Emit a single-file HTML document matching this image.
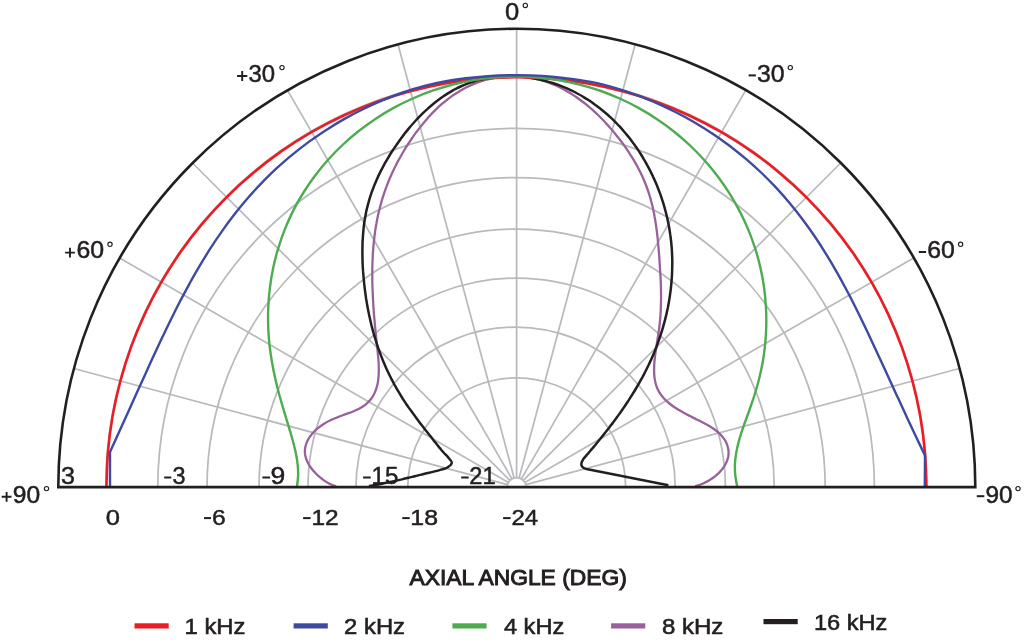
<!DOCTYPE html>
<html><head><meta charset="utf-8"><title>Polar response</title>
<style>html,body{margin:0;padding:0;background:#fff}body{width:1024px;height:643px;overflow:hidden}svg{display:block}text{font-family:"Liberation Sans",sans-serif;fill:#231f20}</style>
</head><body>
<svg width="1024" height="643" viewBox="0 0 1024 643">
<rect width="1024" height="643" fill="#fff"/>
<g fill="none" stroke="#b9babe" stroke-width="1.75">
<path d="M407.8 487.1A108.9 109.3 0 0 1 625.6 487.1"/>
<path d="M356 487.1A159.6 160 0 0 1 675.2 487.1"/>
<path d="M308 487.1A208.7 209.1 0 0 1 725.4 487.1"/>
<path d="M259 487.1A257.6 258 0 0 1 774.2 487.1"/>
<path d="M207 487.1A309.1 309.5 0 0 1 825.2 487.1"/>
<path d="M157.8 487.1A358.3 358.7 0 0 1 874.4 487.1"/>
<path d="M105.9 487.1A410.5 410.9 0 0 1 926.9 487.1"/>
<path d="M507.1 487.1A9.5 9.5 0 0 1 526.1 487.1"/>
<path d="M507.4 484.6L73.8 368.5M508.4 482.4L119.6 257.9M509.9 480.4L192.5 163M511.9 478.9L287.4 90.1M514.1 477.9L398 44.3M516.6 477.6L516.6 28.7M519.1 477.9L635.2 44.3M521.4 478.9L745.8 90.1M523.3 480.4L840.7 163M524.8 482.4L913.6 257.9M525.8 484.6L959.4 368.5"/>
</g>
<g fill="none" stroke-linejoin="round" stroke-linecap="butt">
<path stroke="#99619b" stroke-width="2.3" d="M336.1 486.3C334.9 485.8 331.3 484.6 329 483.4C326.7 482.2 324.5 480.8 322.5 479.3C320.4 477.8 318.4 476.1 316.6 474.3C314.8 472.5 313.1 470.6 311.5 468.5C310 466.5 308.6 464.3 307.5 462C306.4 459.7 305.5 457.2 305.1 454.7C304.8 452.2 304.8 449.5 305.3 447C305.8 444.6 306.8 442.1 308 439.8C309.1 437.6 310.7 435.5 312.4 433.5C314 431.6 315.9 429.8 317.9 428.2C319.8 426.5 322 425 324.1 423.7C326.3 422.3 328.6 421.1 330.9 420C333.2 418.9 335.6 418 338 417.1C340.4 416.1 342.8 415.3 345.2 414.4C347.6 413.5 350.1 412.7 352.5 411.7C354.8 410.8 357.2 409.8 359.5 408.6C361.7 407.3 363.9 406 365.9 404.3C367.8 402.7 369.7 400.8 371.2 398.8C372.7 396.7 374 394.5 375 392.1C376.1 389.8 376.8 387.3 377.4 384.8C378 382.3 378.3 379.7 378.5 377.2C378.8 374.6 378.8 372.1 378.8 369.5C378.8 366.9 378.7 364.4 378.6 361.8C378.4 359.2 378.2 356.7 377.9 354.1C377.7 351.6 377.4 349 377.1 346.5C376.9 343.9 376.6 341.4 376.3 338.8C376 336.3 375.8 333.7 375.5 331.2C375.3 328.6 375 326.1 374.8 323.5C374.6 320.9 374.3 318.4 374.1 315.8C373.9 313.3 373.7 310.7 373.5 308.2C373.4 305.6 373.2 303 373.1 300.5C372.9 297.9 372.8 295.3 372.7 292.8C372.6 290.2 372.5 287.6 372.4 285.1C372.3 282.5 372.3 280 372.3 277.4C372.3 274.8 372.3 272.3 372.3 269.7C372.3 267.1 372.4 264.6 372.5 262C372.6 259.4 372.7 256.9 372.8 254.3C373 251.7 373.2 249.2 373.4 246.6C373.6 244.1 373.9 241.5 374.2 239C374.5 236.4 374.8 233.9 375.1 231.3C375.5 228.8 375.9 226.2 376.4 223.7C376.8 221.2 377.3 218.7 377.8 216.2C378.4 213.7 378.9 211.1 379.6 208.7C380.2 206.2 380.9 203.7 381.6 201.2C382.3 198.8 383.1 196.3 383.9 193.9C384.7 191.4 385.5 189 386.5 186.6C387.4 184.2 388.3 181.8 389.3 179.5C390.3 177.1 391.3 174.8 392.4 172.4C393.5 170.1 394.6 167.8 395.8 165.5C396.9 163.2 398.1 160.9 399.4 158.7C400.6 156.4 401.9 154.2 403.2 152C404.5 149.8 405.8 147.6 407.2 145.4C408.6 143.3 410 141.1 411.5 139C412.9 136.9 414.4 134.8 415.9 132.7C417.4 130.7 419 128.6 420.6 126.6C422.2 124.6 423.8 122.6 425.5 120.7C427.1 118.7 428.8 116.8 430.6 114.9C432.3 113.1 434.1 111.2 436 109.4C437.8 107.6 439.7 105.9 441.6 104.2C443.6 102.5 445.6 100.9 447.6 99.3C449.6 97.8 451.7 96.2 453.8 94.8C455.9 93.4 458.1 92 460.3 90.7C462.5 89.4 464.8 88.2 467.1 87C469.4 85.9 471.7 84.8 474.1 83.9C476.5 82.9 478.9 82 481.4 81.2C483.8 80.5 486.3 79.8 488.8 79.2C491.3 78.6 493.8 78.1 496.3 77.7C498.9 77.3 501.4 77 504 76.7C506.5 76.5 509.1 76.4 511.6 76.3C514.2 76.3 516.8 76.3 519.3 76.5C521.9 76.6 524.5 76.9 527 77.2C529.5 77.6 532.1 78 534.6 78.6C537.1 79.1 539.6 79.7 542 80.4C544.5 81.2 546.9 82 549.3 82.9C551.8 83.8 554.1 84.8 556.5 85.8C558.8 86.9 561.1 88 563.4 89.2C565.6 90.4 567.9 91.7 570.1 93C572.2 94.4 574.4 95.8 576.5 97.2C578.6 98.7 580.7 100.2 582.7 101.8C584.8 103.3 586.8 104.9 588.7 106.6C590.7 108.2 592.6 109.9 594.5 111.7C596.4 113.4 598.2 115.2 600.1 117C601.9 118.8 603.7 120.7 605.4 122.6C607.2 124.4 608.9 126.4 610.5 128.3C612.2 130.2 613.9 132.2 615.5 134.2C617.1 136.2 618.7 138.2 620.3 140.2C621.8 142.3 623.3 144.3 624.8 146.4C626.3 148.5 627.8 150.7 629.2 152.8C630.6 154.9 631.9 157.1 633.3 159.3C634.6 161.5 635.9 163.7 637.1 166C638.3 168.3 639.5 170.5 640.6 172.8C641.7 175.1 642.8 177.5 643.8 179.8C644.8 182.2 645.8 184.6 646.7 187C647.6 189.4 648.4 191.8 649.2 194.3C650 196.7 650.7 199.2 651.3 201.7C652 204.1 652.6 206.6 653.1 209.1C653.7 211.7 654.2 214.2 654.6 216.7C655.1 219.2 655.5 221.8 655.9 224.3C656.2 226.8 656.6 229.4 656.9 231.9C657.2 234.5 657.5 237 657.8 239.6C658 242.1 658.2 244.7 658.5 247.2C658.7 249.8 658.9 252.4 659.1 254.9C659.3 257.5 659.5 260 659.6 262.6C659.8 265.2 660 267.7 660.1 270.3C660.3 272.8 660.4 275.4 660.6 278C660.7 280.5 660.8 283.1 660.9 285.7C661 288.2 661 290.8 661 293.4C661.1 295.9 661.1 298.5 661 301.1C661 303.6 660.9 306.2 660.8 308.8C660.7 311.3 660.6 313.9 660.4 316.4C660.2 319 659.9 321.6 659.7 324.1C659.4 326.7 659.1 329.2 658.7 331.7C658.4 334.3 657.9 336.8 657.5 339.4C657.2 341.9 656.7 344.4 656.3 347C656 349.5 655.6 352 655.2 354.6C654.9 357.1 654.6 359.7 654.4 362.2C654.2 364.8 654.1 367.4 654.1 369.9C654.1 372.5 654.2 375.1 654.5 377.6C654.9 380.1 655.3 382.7 656.1 385.1C656.9 387.6 657.9 390 659.2 392.2C660.5 394.4 662.1 396.4 663.8 398.3C665.5 400.2 667.4 401.9 669.4 403.5C671.4 405.2 673.5 406.6 675.7 408C677.8 409.5 680 410.7 682.3 412C684.5 413.3 686.8 414.5 689.1 415.6C691.3 416.8 693.7 417.9 695.9 419.1C698.2 420.2 700.6 421.3 702.8 422.5C705.1 423.7 707.4 424.9 709.6 426.2C711.8 427.6 714 428.9 716 430.5C718 432.1 720 433.8 721.6 435.7C723.3 437.6 724.9 439.8 726 442C727.1 444.3 728 446.9 728.3 449.3C728.7 451.8 728.6 454.5 728.2 457C727.7 459.5 726.7 462 725.5 464.2C724.3 466.5 722.8 468.6 721.1 470.5C719.5 472.5 717.6 474.3 715.6 475.9C713.7 477.5 711.5 479 709.3 480.3C707.1 481.6 704.8 482.8 702.5 483.8C700.1 484.8 696.4 485.9 695.2 486.3"/>
<path stroke="#231f20" stroke-width="2.5" d="M368.9 486C370 485.8 373.3 485.3 375.5 484.9C377.8 484.5 380 484.1 382.2 483.7C384.4 483.2 386.6 482.8 388.7 482.3C390.9 481.9 393.1 481.4 395.3 480.9C397.5 480.4 399.7 479.9 401.9 479.4C404.1 478.8 406.2 478.3 408.4 477.8C410.6 477.3 412.8 476.7 414.9 476.2C417.1 475.7 419.3 475.1 421.5 474.6C423.7 474.1 425.8 473.5 428 473C430.2 472.5 432.4 472 434.6 471.4C436.7 470.9 438.9 470.3 441 469.6C443.2 469 445.7 468.7 447.4 467.5C449.2 466.4 451.6 464.6 451.8 462.9C451.9 461.2 449.5 459.2 448.2 457.4C446.8 455.7 445.1 454.2 443.6 452.5C442.1 450.8 440.7 449.1 439.2 447.4C437.8 445.7 436.4 443.9 435 442.1C433.6 440.4 432.3 438.6 430.9 436.8C429.5 435.1 428.1 433.3 426.7 431.5C425.3 429.8 424 428 422.6 426.2C421.2 424.5 419.8 422.7 418.5 420.9C417.1 419.1 415.8 417.3 414.5 415.5C413.1 413.7 411.8 411.9 410.5 410.1C409.2 408.3 407.9 406.4 406.6 404.6C405.4 402.7 404.1 400.8 402.9 399C401.7 397.1 400.5 395.2 399.4 393.2C398.2 391.3 397.1 389.4 396 387.4C394.9 385.5 393.8 383.5 392.8 381.5C391.7 379.6 390.7 377.6 389.7 375.5C388.7 373.5 387.8 371.5 386.8 369.5C385.9 367.4 385 365.4 384.1 363.3C383.2 361.2 382.4 359.2 381.6 357.1C380.8 355 380 352.9 379.2 350.8C378.4 348.7 377.7 346.5 377 344.4C376.3 342.3 375.6 340.1 375 338C374.3 335.9 373.7 333.7 373.1 331.5C372.5 329.4 372 327.2 371.4 325C370.9 322.9 370.4 320.7 369.9 318.5C369.4 316.3 368.9 314.1 368.5 311.9C368 309.7 367.6 307.5 367.2 305.3C366.9 303.1 366.5 300.9 366.1 298.7C365.8 296.4 365.5 294.2 365.2 292C364.9 289.8 364.6 287.5 364.4 285.3C364.1 283.1 363.9 280.9 363.7 278.6C363.5 276.4 363.3 274.2 363.1 271.9C363 269.7 362.8 267.4 362.7 265.2C362.6 263 362.5 260.7 362.5 258.5C362.4 256.2 362.4 254 362.4 251.8C362.4 249.5 362.4 247.3 362.5 245C362.5 242.8 362.6 240.5 362.8 238.3C362.9 236.1 363.1 233.8 363.3 231.6C363.5 229.4 363.7 227.1 364 224.9C364.3 222.7 364.6 220.5 365 218.3C365.4 216 365.8 213.8 366.2 211.6C366.7 209.5 367.2 207.3 367.8 205.1C368.4 202.9 369 200.8 369.6 198.6C370.3 196.5 371 194.4 371.7 192.2C372.5 190.1 373.3 188 374.1 185.9C374.9 183.9 375.8 181.8 376.7 179.7C377.6 177.7 378.5 175.7 379.5 173.6C380.5 171.6 381.5 169.6 382.6 167.6C383.6 165.7 384.7 163.7 385.8 161.7C386.9 159.8 388.1 157.9 389.2 156C390.4 154 391.6 152.1 392.8 150.3C394.1 148.4 395.3 146.5 396.6 144.7C397.9 142.8 399.2 141 400.5 139.2C401.8 137.4 403.2 135.6 404.5 133.8C405.9 132 407.3 130.3 408.7 128.6C410.2 126.8 411.6 125.1 413.1 123.5C414.6 121.8 416.1 120.1 417.6 118.5C419.2 116.9 420.8 115.3 422.4 113.7C424 112.1 425.6 110.6 427.3 109.1C428.9 107.6 430.6 106.1 432.3 104.7C434.1 103.2 435.8 101.8 437.6 100.5C439.4 99.1 441.2 97.8 443.1 96.5C444.9 95.3 446.8 94.1 448.7 92.9C450.6 91.7 452.6 90.6 454.5 89.5C456.5 88.5 458.5 87.5 460.6 86.5C462.6 85.6 464.7 84.7 466.8 83.9C468.8 83.1 471 82.4 473.1 81.7C475.2 81 477.4 80.4 479.6 79.9C481.7 79.3 483.9 78.8 486.1 78.4C488.3 78 490.6 77.6 492.8 77.3C495 77 497.2 76.8 499.5 76.6C501.7 76.5 504 76.3 506.2 76.3C508.4 76.2 510.7 76.2 512.9 76.3C515.2 76.3 517.4 76.4 519.6 76.6C521.9 76.8 524.1 77 526.3 77.3C528.6 77.5 530.8 77.9 533 78.2C535.2 78.6 537.4 79 539.6 79.5C541.8 80 544 80.5 546.1 81.1C548.3 81.7 550.4 82.3 552.6 83C554.7 83.7 556.8 84.4 558.9 85.2C561 86 563.1 86.8 565.2 87.7C567.3 88.5 569.3 89.5 571.3 90.4C573.4 91.4 575.4 92.4 577.3 93.5C579.3 94.5 581.3 95.6 583.2 96.8C585.1 97.9 587 99.1 588.9 100.3C590.8 101.6 592.6 102.8 594.4 104.2C596.3 105.5 598 106.8 599.8 108.2C601.6 109.6 603.3 111 605 112.5C606.7 113.9 608.4 115.4 610 116.9C611.7 118.5 613.3 120 614.9 121.6C616.5 123.2 618 124.8 619.6 126.4C621.1 128.1 622.6 129.8 624 131.5C625.5 133.2 626.9 134.9 628.3 136.6C629.7 138.4 631.1 140.2 632.4 142C633.8 143.8 635.1 145.6 636.4 147.4C637.6 149.3 638.9 151.2 640.1 153C641.3 154.9 642.5 156.8 643.6 158.8C644.8 160.7 645.9 162.6 646.9 164.6C648 166.6 649.1 168.6 650.1 170.6C651.1 172.6 652.1 174.6 653 176.6C654 178.6 654.9 180.7 655.8 182.8C656.7 184.8 657.5 186.9 658.3 189C659.1 191.1 659.9 193.2 660.7 195.3C661.4 197.4 662.1 199.5 662.8 201.7C663.5 203.8 664.1 206 664.7 208.1C665.3 210.3 665.9 212.4 666.4 214.6C667 216.8 667.5 219 667.9 221.2C668.4 223.4 668.8 225.6 669.2 227.8C669.6 230 669.9 232.2 670.2 234.4C670.6 236.6 670.8 238.9 671.1 241.1C671.3 243.3 671.5 245.6 671.7 247.8C671.9 250 672 252.3 672.1 254.5C672.2 256.8 672.2 259 672.3 261.2C672.3 263.5 672.3 265.7 672.2 268C672.2 270.2 672.1 272.5 672 274.7C671.9 276.9 671.7 279.2 671.5 281.4C671.4 283.6 671.1 285.9 670.9 288.1C670.6 290.3 670.4 292.6 670 294.8C669.7 297 669.4 299.2 669 301.4C668.6 303.6 668.2 305.8 667.8 308C667.3 310.2 666.8 312.4 666.3 314.6C665.8 316.8 665.3 319 664.7 321.1C664.1 323.3 663.5 325.5 662.9 327.6C662.3 329.8 661.6 331.9 660.9 334.1C660.2 336.2 659.5 338.3 658.8 340.4C658 342.5 657.3 344.6 656.5 346.7C655.7 348.8 654.8 350.9 654 353C653.1 355.1 652.2 357.1 651.3 359.2C650.4 361.2 649.4 363.2 648.5 365.3C647.5 367.3 646.5 369.3 645.5 371.3C644.5 373.3 643.4 375.3 642.4 377.3C641.3 379.2 640.2 381.2 639.1 383.1C638 385.1 636.9 387 635.7 389C634.6 390.9 633.4 392.8 632.2 394.7C631 396.6 629.8 398.5 628.6 400.4C627.4 402.2 626.1 404.1 624.9 406C623.6 407.8 622.3 409.7 621.1 411.5C619.8 413.3 618.5 415.2 617.1 417C615.8 418.8 614.5 420.6 613.1 422.4C611.8 424.2 610.4 426 609.1 427.8C607.7 429.5 606.3 431.3 604.9 433.1C603.6 434.8 602.2 436.6 600.7 438.3C599.3 440.1 597.9 441.8 596.5 443.5C595.1 445.3 593.6 447 592.2 448.7C590.7 450.4 589.3 452.1 587.8 453.8C586.4 455.5 584.1 458.1 583.4 458.9C581.6 461.4 580.6 464.6 582.2 466.8C583.2 468.2 584.6 468.6 586.4 469L668.4 485.2"/>
<path stroke="#ec1c24" stroke-width="2.6" d="M106.4 487.1C106.7 481.1 106.9 463.2 108 451.4C109 439.5 110.6 427.7 112.6 415.9C114.7 404.2 117.3 392.5 120.4 381C123.5 369.5 127.1 358.1 131.1 346.9C135.2 335.8 139.8 324.7 144.8 313.9C149.8 303.1 155.4 292.5 161.3 282.2C167.3 271.9 173.7 261.8 180.5 252C187.4 242.3 194.7 232.8 202.3 223.7C210 214.6 218.1 205.7 226.5 197.3C234.9 188.9 243.7 180.8 252.9 173.2C262 165.5 271.5 158.2 281.2 151.4C291 144.6 301.1 138.2 311.4 132.2C321.7 126.3 332.3 120.7 343.1 115.7C353.9 110.7 365 106.1 376.2 102C387.4 97.9 398.8 94.3 410.3 91.3C421.8 88.2 433.5 85.6 445.2 83.5C456.9 81.5 468.8 79.9 480.7 78.9C492.5 77.8 504.5 77.3 516.4 77.3C528.3 77.3 540.3 77.8 552.1 78.9C564 79.9 575.9 81.5 587.6 83.5C599.3 85.6 611 88.2 622.5 91.3C634 94.3 645.4 97.9 656.6 102C667.8 106.1 678.9 110.7 689.7 115.7C700.5 120.7 711.1 126.3 721.4 132.2C731.7 138.2 741.8 144.6 751.6 151.4C761.3 158.2 770.8 165.5 779.9 173.2C789.1 180.8 797.9 188.9 806.3 197.3C814.7 205.7 822.8 214.6 830.5 223.7C838.1 232.8 845.4 242.3 852.3 252C859.1 261.8 865.5 271.9 871.5 282.2C877.4 292.5 883 303.1 888 313.9C893 324.7 897.6 335.8 901.7 346.9C905.7 358.1 909.3 369.5 912.4 381C915.5 392.5 918.1 404.2 920.2 415.9C922.2 427.7 923.8 439.5 924.8 451.4C925.9 463.2 926.1 481.1 926.4 487.1"/>
<path stroke="#4dab50" stroke-width="2.4" d="M296.9 487C297.1 485.1 298 479.4 298.1 475.6C298.3 471.7 298 467.9 297.6 464C297.2 460.1 296.5 456.1 295.6 452C294.7 447.9 293.6 443.7 292.4 439.3C291.2 435 289.9 430.5 288.5 425.9C287.1 421.2 285.6 416.4 284.1 411.4C282.6 406.5 281.1 401.3 279.6 396C278.2 390.7 276.7 385.2 275.5 379.6C274.2 374 273 368.2 272 362.3C271 356.4 270.1 350.4 269.4 344.2C268.8 338.1 268.3 331.9 268.2 325.6C268 319.3 268 312.9 268.3 306.5C268.6 300.1 269.1 293.7 270 287.2C270.8 280.7 271.9 274.2 273.2 267.8C274.6 261.3 276.2 254.8 278.2 248.4C280.1 242.1 282.3 235.7 284.8 229.4C287.3 223.2 290.1 216.9 293.1 210.9C296.2 204.8 299.5 198.8 303.2 193C306.8 187.2 310.6 181.5 314.8 176C318.9 170.5 323.3 165.1 327.9 160C332.5 154.8 337.4 149.8 342.5 145C347.6 140.2 352.9 135.6 358.4 131.3C363.9 126.9 369.6 122.8 375.4 118.9C381.3 115 387.4 111.3 393.6 107.9C399.8 104.5 406.2 101.4 412.7 98.5C419.2 95.6 425.8 93 432.5 90.7C439.3 88.4 446.1 86.3 453 84.5C459.9 82.8 467 81.3 474 80.1C481.1 78.9 488.2 78 495.3 77.4C502.4 76.9 509.6 76.6 516.8 76.6C523.9 76.6 531.1 76.9 538.3 77.5C545.4 78.1 552.5 79 559.5 80.2C566.6 81.5 573.6 83 580.5 84.8C587.4 86.6 594.3 88.7 601 91C607.7 93.4 614.3 96.1 620.8 99C627.2 101.9 633.6 105.1 639.8 108.6C646 112 652 115.7 657.8 119.7C663.7 123.6 669.4 127.8 674.8 132.2C680.3 136.6 685.6 141.2 690.6 146C695.6 150.8 700.5 155.8 705.1 161C709.7 166.1 714.1 171.5 718.2 177C722.3 182.5 726.2 188.2 729.8 193.9C733.4 199.7 736.8 205.6 739.9 211.6C743 217.6 745.8 223.7 748.4 229.9C750.9 236.1 753.2 242.4 755.2 248.7C757.3 255 759 261.4 760.4 267.7C761.9 274.1 763.1 280.6 764 287C764.9 293.4 765.5 299.8 765.9 306.1C766.3 312.5 766.4 318.8 766.3 325.1C766.2 331.4 765.8 337.6 765.2 343.7C764.6 349.8 763.8 355.9 762.8 361.8C761.7 367.7 760.5 373.6 759 379.3C757.6 385 755.9 390.6 754.2 396C752.5 401.4 750.5 406.7 748.8 411.8C747 416.9 745.1 421.7 743.5 426.4C741.9 431.1 740.4 435.6 739.2 439.9C738 444.2 737 448.4 736.3 452.4C735.6 456.5 735.1 460.4 734.9 464.3C734.8 468.1 734.9 471.9 735.3 475.7C735.7 479.5 737 485.1 737.3 487"/>
<path stroke="#3d4aa0" stroke-width="2.4" d="M110 487L110 451.9C111.6 448.5 116.2 438.3 119.3 431.6C122.3 425 125.2 418.4 128.2 412C131.1 405.5 134 399.1 136.8 392.8C139.7 386.4 142.5 380.2 145.4 374C148.2 367.7 151 361.6 153.8 355.4C156.7 349.3 159.5 343.2 162.4 337.1C165.3 331.1 168.2 325 171.2 319C174.1 313 177.1 307 180.2 301C183.3 295.1 186.5 289.2 189.7 283.3C193 277.4 196.3 271.5 199.8 265.7C203.2 259.9 206.8 254.1 210.4 248.4C214.1 242.6 217.9 237 221.9 231.4C225.8 225.8 229.9 220.2 234.1 214.8C238.3 209.3 242.7 204 247.2 198.7C251.7 193.5 256.4 188.4 261.3 183.4C266.1 178.3 271.1 173.5 276.2 168.7C281.4 164 286.6 159.3 292.1 154.9C297.5 150.4 303.1 146.1 308.8 141.9C314.5 137.8 320.3 133.7 326.3 129.9C332.2 126.1 338.3 122.4 344.5 118.9C350.7 115.4 357 112.1 363.4 109C369.8 105.8 376.4 102.9 383 100.1C389.6 97.4 396.3 94.8 403.1 92.5C409.8 90.2 416.7 87.9 423.6 86.1C430.6 84.3 437.6 82.8 444.7 81.5C451.8 80.2 458.9 79.2 466 78.3C473.2 77.4 480.3 76.7 487.5 76.2C494.7 75.7 501.9 75.4 509 75.3C516.2 75.1 523.4 75.2 530.6 75.4C537.8 75.7 545 76.1 552.1 76.7C559.3 77.4 566.4 78.2 573.6 79.2C580.7 80.2 587.8 81.2 594.8 82.7C601.9 84.2 608.8 86.1 615.7 88.1C622.6 90.1 629.4 92.4 636.1 94.9C642.9 97.3 649.5 100 656.1 102.8C662.6 105.7 669.1 108.7 675.4 112C681.8 115.2 688 118.6 694.2 122.2C700.3 125.8 706.3 129.5 712.2 133.5C718.1 137.4 723.9 141.5 729.5 145.7C735.1 150 740.6 154.4 745.9 158.9C751.3 163.5 756.5 168.2 761.6 173C766.6 177.8 771.5 182.8 776.3 187.8C781 192.9 785.6 198.1 790 203.4C794.5 208.8 798.7 214.2 802.8 219.7C807 225.2 810.9 230.8 814.8 236.5C818.6 242.1 822.3 247.9 825.8 253.6C829.4 259.4 832.9 265.2 836.2 271.1C839.6 277 842.8 282.9 845.9 288.8C849.1 294.7 852.2 300.7 855.2 306.7C858.2 312.7 861.1 318.7 864 324.7C866.9 330.7 869.8 336.8 872.6 342.9C875.5 349 878.3 355.1 881.1 361.2C884 367.4 886.8 373.5 889.6 379.8C892.5 386 895.3 392.3 898.3 398.6C901.2 405 904.1 411.4 907.2 417.9C910.2 424.4 913.5 431.3 916.4 437.6C919.4 443.9 923.6 452.6 925 455.6L924.8 487"/>
</g>
<path fill="none" stroke="#231f20" stroke-width="2.6" stroke-linejoin="miter" d="M58.3 487.1A458.5 458.5 0 0 1 975.3 487.1Z"/>
<g opacity="0.999">
<text transform="translate(505.01 19.5) scale(1.07 1)" font-size="23.9" stroke="#231f20" stroke-width="0.5">0</text>
<path d="M237.1 76H247.3M242.2 70.9V81.1" stroke="#231f20" stroke-width="1.9" fill="none"/>
<text transform="translate(248.58 81.7) scale(1 1)" font-size="23.9" stroke="#231f20" stroke-width="0.5">30</text>
<rect x="748.6" y="74.4" width="7.3" height="2" fill="#231f20"/>
<text transform="translate(757.03 81.7) scale(1.04 1)" font-size="23.9" stroke="#231f20" stroke-width="0.5">30</text>
<path d="M65.1 252.6H74.9M70 247.7V257.5" stroke="#231f20" stroke-width="1.9" fill="none"/>
<text transform="translate(76.45 258.3) scale(1.04 1)" font-size="23.9" stroke="#231f20" stroke-width="0.5">60</text>
<rect x="918.8" y="251" width="7.3" height="2" fill="#231f20"/>
<text transform="translate(927.25 258.3) scale(1.04 1)" font-size="23.9" stroke="#231f20" stroke-width="0.5">60</text>
<path d="M1.7 496.8H11.5M6.6 491.9V501.7" stroke="#231f20" stroke-width="1.9" fill="none"/>
<text transform="translate(12.74 502.5) scale(1.03 1)" font-size="23.9" stroke="#231f20" stroke-width="0.5">90</text>
<rect x="976.8" y="495.2" width="7.5" height="2" fill="#231f20"/>
<text transform="translate(985.45 502.5) scale(1.02 1)" font-size="23.9" stroke="#231f20" stroke-width="0.5">90</text>
<circle cx="525.3" cy="5.4" r="2.15" fill="none" stroke="#231f20" stroke-width="1.15"/>
<circle cx="282" cy="67.6" r="2.15" fill="none" stroke="#231f20" stroke-width="1.15"/>
<circle cx="790.3" cy="67.6" r="2.15" fill="none" stroke="#231f20" stroke-width="1.15"/>
<circle cx="110" cy="244.3" r="2.15" fill="none" stroke="#231f20" stroke-width="1.15"/>
<circle cx="960.6" cy="244.3" r="2.15" fill="none" stroke="#231f20" stroke-width="1.15"/>
<circle cx="46.5" cy="488.6" r="2.15" fill="none" stroke="#231f20" stroke-width="1.15"/>
<circle cx="1018" cy="488.6" r="2.15" fill="none" stroke="#231f20" stroke-width="1.15"/>
<text transform="translate(61.01 483.9) scale(1.05 1)" font-size="23.9" stroke="#231f20" stroke-width="0.5">3</text>
<rect x="164.2" y="476.5" width="7.1" height="2" fill="#231f20"/>
<text transform="translate(172.4 483.9) scale(0.98 1)" font-size="23.9" stroke="#231f20" stroke-width="0.5">3</text>
<rect x="262.4" y="476.5" width="7.7" height="2" fill="#231f20"/>
<text transform="translate(270.45 483.9) scale(1.11 1)" font-size="23.9" stroke="#231f20" stroke-width="0.5">9</text>
<rect x="363.1" y="476.5" width="7.6" height="2" fill="#231f20"/>
<text transform="translate(371.52 483.9) scale(1.01 1)" font-size="23.9" stroke="#231f20" stroke-width="0.5">15</text>
<rect x="461.2" y="476.5" width="7.5" height="2" fill="#231f20"/>
<text transform="translate(469.32 483.9) scale(0.99 1)" font-size="23.9" stroke="#231f20" stroke-width="0.5">21</text>
<text transform="translate(105.68 524.5) scale(1.13 1)" font-size="22.6" stroke="#231f20" stroke-width="0.5">0</text>
<rect x="204" y="517.1" width="7" height="2" fill="#231f20"/>
<text transform="translate(212.04 524.5) scale(1.09 1)" font-size="22.6" stroke="#231f20" stroke-width="0.5">6</text>
<rect x="303.1" y="517.1" width="7.5" height="2" fill="#231f20"/>
<text transform="translate(311.45 524.5) scale(1.08 1)" font-size="22.6" stroke="#231f20" stroke-width="0.5">12</text>
<rect x="402.3" y="517.1" width="7.4" height="2" fill="#231f20"/>
<text transform="translate(410.31 524.5) scale(1.1 1)" font-size="22.6" stroke="#231f20" stroke-width="0.5">18</text>
<rect x="503.1" y="517.1" width="7.5" height="2" fill="#231f20"/>
<text transform="translate(511.51 524.5) scale(1.06 1)" font-size="22.6" stroke="#231f20" stroke-width="0.5">24</text>
<text transform="translate(409.57 585.3) scale(1.01 1)" font-size="22.6" stroke="#231f20" stroke-width="1.0">AXIAL ANGLE (DEG)</text>
<rect x="134.5" y="623.3" width="34.2" height="5.2" fill="#ec1c24"/>
<text transform="translate(184.57 634.25) scale(1.05 1)" font-size="22.7" stroke="#231f20" stroke-width="0.6">1 kHz</text>
<rect x="293.6" y="623.3" width="34.2" height="5.2" fill="#3d4aa0"/>
<text transform="translate(344.12 634.25) scale(1.05 1)" font-size="22.7" stroke="#231f20" stroke-width="0.6">2 kHz</text>
<rect x="452.4" y="623.3" width="34.2" height="5.2" fill="#4dab50"/>
<text transform="translate(503.94 634.25) scale(1.04 1)" font-size="22.7" stroke="#231f20" stroke-width="0.6">4 kHz</text>
<rect x="611.1" y="623.3" width="34.2" height="5.2" fill="#99619b"/>
<text transform="translate(661.89 634.25) scale(1.06 1)" font-size="22.7" stroke="#231f20" stroke-width="0.6">8 kHz</text>
<rect x="763.5" y="619" width="34.2" height="5.2" fill="#231f20"/>
<text transform="translate(813.99 630.2) scale(1.04 1)" font-size="22.7" stroke="#231f20" stroke-width="0.6">16 kHz</text>
</g>
</svg></body></html>
